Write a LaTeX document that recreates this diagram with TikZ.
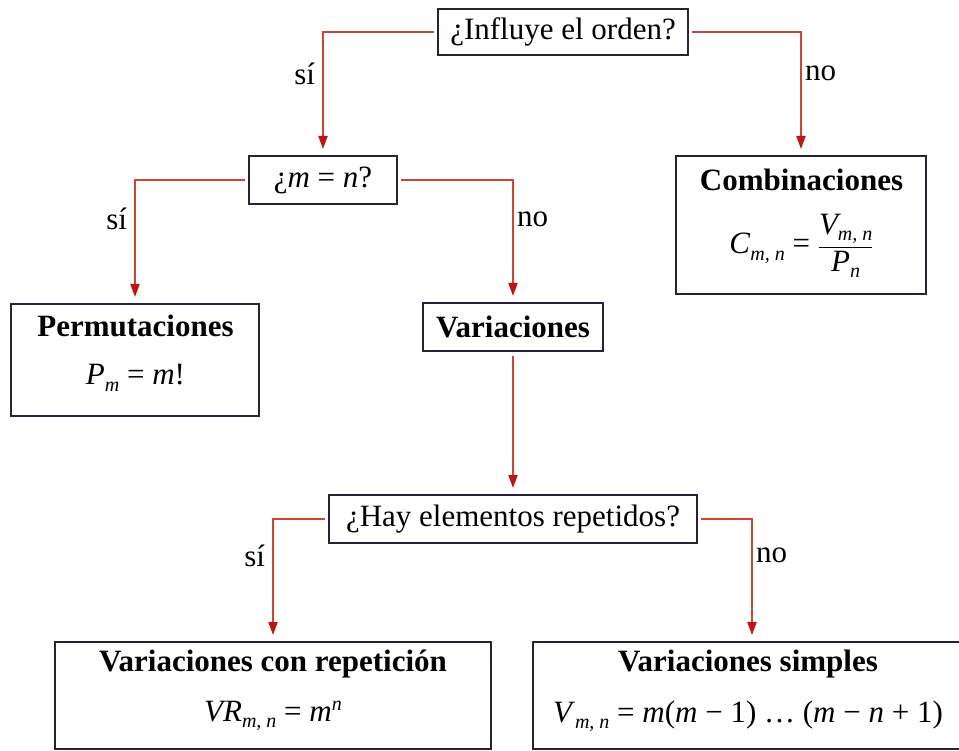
\documentclass[tikz,border=0pt]{standalone}
\usepackage{amsmath}
\usepackage{fontspec}
\setmainfont{Liberation Serif}
\usetikzlibrary{arrows.meta}
\definecolor{linered}{RGB}{205,70,50}
\definecolor{tipred}{RGB}{190,20,20}
\definecolor{boxblue}{RGB}{35,35,60}
\newcommand{\sbs}[1]{\raisebox{-0.45ex}{\fontsize{20}{20}\selectfont\itshape #1}}
\newcommand{\spp}[1]{\raisebox{0.75ex}{\fontsize{20}{20}\selectfont\itshape #1}}
\begin{document}
\begin{tikzpicture}[x=1pt,y=-1pt,
  box/.style={draw=boxblue, line width=2pt, fill=white, inner sep=0pt,
    font=\fontsize{31}{36}\selectfont},
  conn/.style={draw=linered, line width=2pt,
    -{Triangle[length=13pt,width=9pt,color=tipred]},
    shorten >=6pt, shorten <=3pt},
  lbl/.style={font=\fontsize{31}{36}\selectfont, inner sep=2pt},
  lblL/.style={lbl, anchor=east, xshift=-5pt},
  lblR/.style={lbl, anchor=west, xshift=1pt},
  ttl/.style={font=\fontsize{31}{36}\selectfont\bfseries, inner sep=0pt},
  frm/.style={font=\fontsize{31}{36}\selectfont, inner sep=0pt}]
\useasboundingbox (0,0) rectangle (959,751);
\clip (0,0) rectangle (959,751);

% question boxes
\node[box, minimum width=250pt, minimum height=46pt] (q1) at (563,32) {¿Influye el orden?};
\node[box, minimum width=148pt, minimum height=48pt] (q2) at (323,180) {¿\textit{m} = \textit{n}?};
\node[box, minimum width=368pt, minimum height=48pt] (q3) at (513,519) {¿Hay elementos repetidos?};

% result boxes
\node[box, minimum width=250pt, minimum height=138pt] (comb) at (801,225) {};
\node[ttl] (combT) at (801.5,180) {Combinaciones};
\node[frm] (combF) at (801.5,246) {\textit{C}\sbs{m, n} = $\dfrac{\text{\itshape V\sbs{m, n}}}{\text{\itshape P\sbs{n}}}$};

\node[box, minimum width=248pt, minimum height=112pt] (perm) at (135,360) {};
\node[ttl] (permT) at (135.5,326) {Permutaciones};
\node[frm] (permF) at (135.5,378) {\textit{P}\sbs{m} = \textit{m}!};

\node[box, minimum width=180pt, minimum height=48pt, font=\fontsize{31}{36}\selectfont\bfseries] (var) at (513,327) {Variaciones};

\node[box, minimum width=436pt, minimum height=107pt] (vr) at (273,695.5) {};
\node[ttl] (vrT) at (273,664) {Variaciones con repetición};
\node[frm] (vrF) at (273,716) {\textit{VR}\sbs{m, n} = \textit{m}\spp{n}};

\node[box, minimum width=438pt, minimum height=107pt] (vs) at (752,695.5) {};
\node[ttl] (vsT) at (748,664) {Variaciones simples};
\node[frm] (vsF) at (748,716) {\textit{V}\sbs{m, n} = \textit{m}(\textit{m} − 1) … (\textit{m} − \textit{n} + 1)};

% connectors
\draw[conn] (q1.west) -| node[lblL, pos=0.67] (l1) {sí} (q2.north);
\draw[conn] (q1.east) -| node[lblR, pos=0.67] (l2) {no} (comb.north);
\draw[conn] (q2.west) -| node[lblL, pos=0.66] (l3) {sí} (perm.north);
\draw[conn] (q2.east) -| node[lblR, pos=0.66] (l4) {no} (var.north);
\draw[conn, shorten <=4pt] (var.south) -- (q3.north);
\draw[conn] (q3.west) -| node[lblL, pos=0.65] (l5) {sí} (vr.north);
\draw[conn] (q3.east) -| node[lblR, pos=0.65] (l6) {no} (vs.north);
\end{tikzpicture}
\end{document}
